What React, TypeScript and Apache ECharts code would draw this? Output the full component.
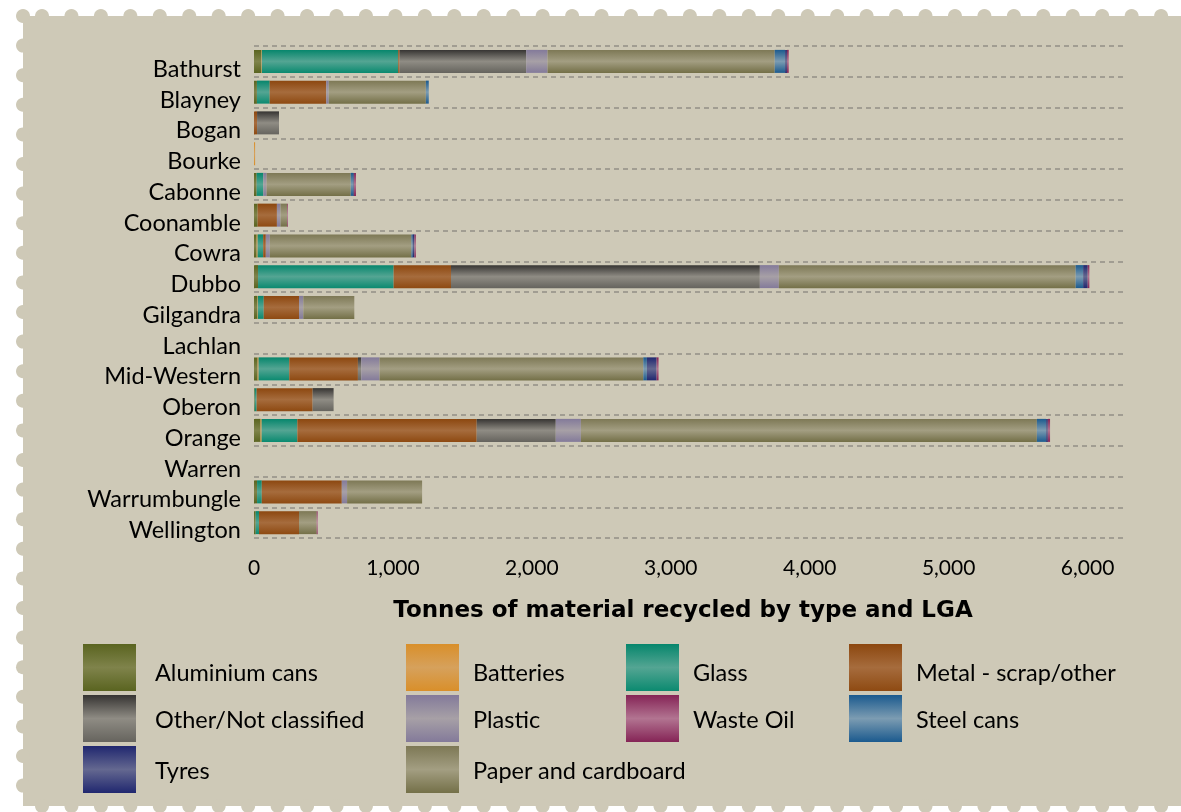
import React, { useEffect, useRef } from "react";
import * as echarts from "echarts";

// Local government areas (LGAs)
const categories = [
  "Bathurst", "Blayney", "Bogan", "Bourke", "Cabonne", "Coonamble", "Cowra", "Dubbo",
  "Gilgandra", "Lachlan", "Mid-Western", "Oberon", "Orange", "Warren", "Warrumbungle", "Wellington",
];

// Tonnes recycled per material, one value per LGA (in the order above)
const aluminiumCans = [51, 21, 0, 0, 19, 26, 19, 29, 22, 0, 26, 5, 47, 0, 22, 12];
const batteries = [5, 0, 0, 8, 0, 0, 7, 0, 5, 0, 7, 0, 8, 0, 0, 0];
const glass = [982, 92, 0, 0, 48, 0, 40, 976, 43, 0, 221, 14, 257, 0, 34, 24];
const metalScrap = [10, 407, 22, 0, 0, 139, 19, 413, 254, 0, 494, 403, 1291, 0, 576, 288];
const otherNotClassified = [911, 0, 158, 0, 0, 0, 0, 2223, 0, 0, 24, 151, 569, 0, 0, 0];
const plastic = [154, 18, 0, 0, 24, 26, 29, 137, 31, 0, 132, 0, 181, 0, 38, 0];
const paperCardboard = [1635, 699, 0, 0, 605, 48, 1019, 2136, 367, 0, 1898, 0, 3282, 0, 540, 127];
const steelCans = [75, 21, 0, 0, 19, 0, 10, 54, 0, 0, 26, 0, 67, 0, 0, 0];
const tyres = [13, 0, 0, 0, 5, 0, 12, 33, 0, 0, 70, 0, 12, 0, 0, 0];
const wasteOil = [13, 0, 0, 0, 14, 5, 10, 12, 0, 0, 14, 0, 16, 0, 0, 7];

// x-axis tick values
const xTicks = [0, 1000, 2000, 3000, 4000, 5000, 6000];

// Stacking order of the segments, left to right
const seriesDefs = [
  { name: "Aluminium cans", data: aluminiumCans, colors: ["#5a6420", "#7f834b", "#5a6420"] },
  { name: "Batteries", data: batteries, colors: ["#d98f2a", "#d6a15c", "#d98f2a"] },
  { name: "Glass", data: glass, colors: ["#06866c", "#54a593", "#0b8a70"] },
  { name: "Metal - scrap/other", data: metalScrap, colors: ["#8c470f", "#a66c3d", "#8e4a12"] },
  { name: "Other/Not classified", data: otherNotClassified, colors: ["#363432", "#8f8c84", "#66645e"] },
  { name: "Plastic", data: plastic, colors: ["#837a9a", "#a7a0a6", "#837a9a"] },
  { name: "Paper and cardboard", data: paperCardboard, colors: ["#7d7855", "#a39e82", "#747048"] },
  { name: "Steel cans", data: steelCans, colors: ["#1b5a8e", "#7c9cb2", "#1b5a8e"] },
  { name: "Tyres", data: tyres, colors: ["#20276f", "#646890", "#20276f"] },
  { name: "Waste Oil", data: wasteOil, colors: ["#852456", "#b27491", "#852456"] },
];

// Legend columns
const legendColumns = [
  ["Aluminium cans", "Other/Not classified", "Tyres"],
  ["Batteries", "Plastic", "Paper and cardboard"],
  ["Glass", "Waste Oil"],
  ["Metal - scrap/other", "Steel cans"],
];
const legendFirstRow = legendColumns.map((col) => col[0]);

const FONT = "Lato, 'Open Sans', sans-serif";
const TITLE_FONT = "'DejaVu Sans', Lato, sans-serif";
const PAPER = "#cec9b7";
const TEXT_SIZE = 23.5;

function cylinder(c: string[]) {
  return new echarts.graphic.LinearGradient(0, 0, 0, 1, [
    { offset: 0, color: c[0] },
    { offset: 0.5, color: c[1] },
    { offset: 1, color: c[2] },
  ]);
}

// Stamp-shaped backdrop: a panel with scalloped top, left and bottom edges
function backdrop() {
  const els: any[] = [];
  const W = 1181;
  const top = 16;
  const left = 23;
  const bottom = 806;
  const r = 7;
  els.push({
    type: "rect",
    z: -100,
    shape: { x: left, y: top, width: W - left + 10, height: bottom - top + 20 },
    style: { fill: PAPER },
  });
  for (let x = 42; x < W + r; x += 29.45) {
    els.push({ type: "circle", z: -100, shape: { cx: x, cy: top, r }, style: { fill: PAPER } });
  }
  for (let y = top; y < bottom; y += 29.6) {
    els.push({ type: "circle", z: -100, shape: { cx: left, cy: y, r }, style: { fill: PAPER } });
  }
  // white notches along the bottom edge
  els.push({
    type: "rect",
    z: -99,
    shape: { x: 0, y: bottom, width: W, height: 20 },
    style: { fill: "#ffffff" },
  });
  for (let x = 42; x < W + r; x += 29.45) {
    els.push({ type: "circle", z: -98, shape: { cx: x, cy: bottom, r }, style: { fill: PAPER } });
  }
  return els;
}

export default function App() {
  const ref = useRef<HTMLDivElement>(null);

  useEffect(() => {
    if (!ref.current) return;
    const chart = echarts.init(ref.current, undefined, { renderer: "svg" });

    const legends = legendColumns.map((names, i) => {
      const gap = i === 0 ? 14 : 9;
      const base = { fontFamily: FONT, fontSize: TEXT_SIZE, color: "#000" };
      return {
        show: true,
        orient: "vertical",
        left: [83, 406, 626, 849][i],
        top: 644,
        padding: 0,
        itemWidth: 53,
        itemHeight: 47,
        itemGap: 4,
        icon: "rect",
        selectedMode: false,
        data: names,
        formatter: (name: string) =>
          legendFirstRow.includes(name) ? `{a|${name}}` : `{b|${name}}`,
        textStyle: {
          rich: {
            a: { ...base, padding: [9, 0, 0, gap] },
            b: { ...base, padding: [0, 0, 0, gap] },
          },
        },
      };
    });

    chart.setOption({
      animation: false,
      backgroundColor: "transparent",
      graphic: [
        ...backdrop(),
        {
          type: "text",
          x: 683,
          y: 609,
          style: {
            text: "Tonnes of material recycled by type and LGA",
            font: `bold 23px ${TITLE_FONT}`,
            fill: "#000",
            align: "center",
            verticalAlign: "middle",
          },
        },
      ],
      legend: legends,
      grid: { left: 254, top: 46, width: 869, height: 492, containLabel: false },
      xAxis: {
        type: "value",
        min: 0,
        max: 6255,
        interval: 1000,
        axisLine: { show: false },
        axisTick: { show: false },
        splitLine: { show: false },
        axisLabel: {
          fontFamily: FONT,
          fontSize: 21,
          color: "#000",
          margin: 18,
          formatter: (v: number) => (xTicks.includes(v) ? v.toLocaleString("en-US") : ""),
        },
      },
      yAxis: {
        type: "category",
        inverse: true,
        data: categories,
        axisLine: { show: false },
        axisTick: { show: false },
        axisLabel: {
          margin: 13,
          formatter: (v: string) => `{a|${v}}`,
          rich: {
            a: {
              fontFamily: FONT,
              fontSize: TEXT_SIZE,
              color: "#000",
              padding: [13, 0, 0, 0],
            },
          },
        },
        splitLine: {
          show: true,
          lineStyle: { color: "#928f87", width: 1.5, type: [5, 4] },
        },
      },
      series: seriesDefs.map((s) => ({
        name: s.name,
        type: "bar",
        stack: "total",
        barWidth: 23,
        data: s.data,
        itemStyle: { color: cylinder(s.colors) },
      })),
    });

    return () => chart.dispose();
  }, []);

  return (
    <div
      ref={ref}
      style={{ position: "fixed", left: 0, top: 0, width: 1181, height: 812 }}
    />
  );
}
